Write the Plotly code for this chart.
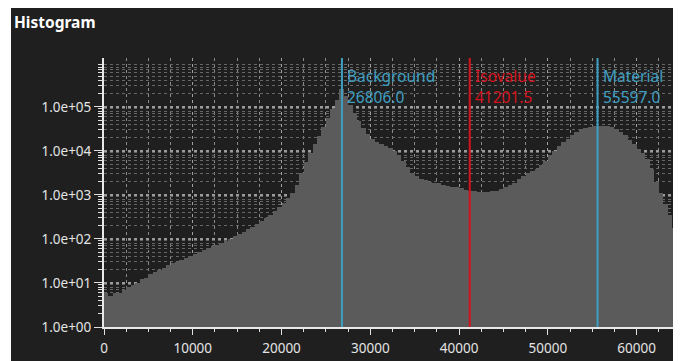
import plotly.graph_objects as go

# ---- data ----
bin_width = 500
counts = [
    6, 5, 6, 6, 7, 8, 9, 10, 12, 13,
    16, 18, 20, 22, 25, 28, 30, 33, 37, 41,
    45, 50, 55, 62, 68, 74, 83, 91, 102, 115,
    129, 145, 166, 191, 219, 257, 302, 355, 427, 525,
    661, 851, 1122, 1660, 3162, 5623, 8913, 14125, 21878, 34674,
    56234, 91201, 141254, 251189, 177828, 112202, 70795, 47863, 33113, 23988,
    18621, 15849, 14125, 12589, 11482, 10000, 7943, 6026, 4365, 3162,
    2630, 2344, 2138, 1995, 1905, 1820, 1698, 1622, 1549, 1479,
    1413, 1318, 1259, 1202, 1175, 1175, 1175, 1202, 1259, 1349,
    1479, 1660, 1905, 2291, 2692, 3090, 3467, 3981, 4786, 6026,
    7943, 10000, 12589, 15849, 19055, 22909, 26915, 30903, 33884, 35481,
    36308, 37154, 37154, 36308, 35481, 31623, 26915, 22387, 17783, 14125,
    11220, 8913, 6607, 3981, 1995, 1122, 631, 355, 178, 89,
    40,
]
bin_centers = [i * bin_width + bin_width / 2 for i in range(len(counts))]

marker_names = ["Background", "Isovalue", "Material"]
marker_values = [26806.0, 41201.5, 55597.0]
marker_colors = ["#3f9fc2", "#d4121c", "#3f9fc2"]

y_tick_vals = [1, 10, 100, 1000, 10000, 100000]
y_tick_text = ["1.0e+00", "1.0e+01", "1.0e+02", "1.0e+03", "1.0e+04", "1.0e+05"]
y_minor_vals = [m * 10 ** k for k in range(0, 7) for m in range(2, 10)]

x_tick_vals = [0, 10000, 20000, 30000, 40000, 50000, 60000]
x_tick_text = ["0", "10000", "20000", "30000", "40000", "50000", "60000"]

# ---- figure (page adds an 8px body margin) ----
W, H = 673, 353
ML, MR, MT, MB = 96, 0, 50, 34
BG = "#1f1f1f"
FONT = "Noto Sans"

fig = go.Figure()
fig.add_trace(go.Bar(
    x=bin_centers, y=counts, width=bin_width,
    marker=dict(color="#5b5b5b", line=dict(width=0)),
    hoverinfo="skip",
))

shapes = []
annotations = []
for name, val, col in zip(marker_names, marker_values, marker_colors):
    shapes.append(dict(type="line", xref="x", yref="paper", x0=val, x1=val,
                       y0=0, y1=1, line=dict(color=col, width=2), layer="above"))
    annotations.append(dict(text=name, x=val, xref="x", y=1, yref="paper",
                            xanchor="left", yanchor="middle", xshift=3, yshift=-18,
                            showarrow=False, font=dict(family=FONT, size=15.5, color=col)))
    annotations.append(dict(text=f"{val:.1f}", x=val, xref="x", y=1, yref="paper",
                            xanchor="left", yanchor="middle", xshift=3, yshift=-39,
                            showarrow=False, font=dict(family=FONT, size=15.5, color=col)))

pw = W - ML - MR
ph = H - MT - MB
# thin white strip at the left edge of the panel
shapes.append(dict(type="rect", xref="paper", yref="paper",
                   x0=-ML / pw, x1=(3 - ML) / pw, y0=-MB / ph, y1=(H - MB) / ph,
                   fillcolor="white", line=dict(width=0), layer="above"))

annotations.append(dict(text="<b>Histogram</b>", xref="paper", yref="paper",
                        x=(4 - ML) / pw, y=(H - MB - 14) / ph,
                        xanchor="left", yanchor="middle", showarrow=False,
                        font=dict(family=FONT, size=15.5, color="white")))

fig.update_layout(
    width=W, height=H,
    margin=dict(l=ML, r=MR, t=MT, b=MB, pad=0),
    paper_bgcolor=BG, plot_bgcolor=BG,
    bargap=0, showlegend=False,
    shapes=shapes, annotations=annotations,
    font=dict(family=FONT, size=13, color="#e4e4e4"),
)

fig.update_xaxes(
    range=[0, 65000], tickvals=x_tick_vals, ticktext=x_tick_text,
    ticks="outside", ticklen=6, tickcolor="#e0e0e0", tickwidth=1,
    ticklabelstandoff=2,
    showline=True, linecolor="#e8e8e8", linewidth=2,
    showgrid=True, gridcolor="#a0a0a0", griddash="dot", gridwidth=1,
    zeroline=False,
    tickfont=dict(family=FONT, size=13.5, color="#e4e4e4"),
    minor=dict(dtick=2500, ticks="outside", ticklen=3, tickcolor="#e0e0e0",
               showgrid=True, gridcolor="#8a8a8a", griddash="dot", gridwidth=1),
)
fig.update_yaxes(
    type="log", range=[0, 6.11],
    tickvals=y_tick_vals, ticktext=y_tick_text,
    ticks="outside", ticklen=8, tickcolor="#e0e0e0", tickwidth=1,
    showline=True, linecolor="#e8e8e8", linewidth=2,
    showgrid=True, gridcolor="#9a9a9a", griddash="dot", gridwidth=2,
    zeroline=False,
    tickfont=dict(family=FONT, size=13.5, color="#e4e4e4"),
    minor=dict(tickvals=y_minor_vals, ticks="outside", ticklen=4, tickcolor="#e0e0e0",
               showgrid=True, gridcolor="#666666", griddash="dot", gridwidth=1),
)

fig.write_html("out.html")
